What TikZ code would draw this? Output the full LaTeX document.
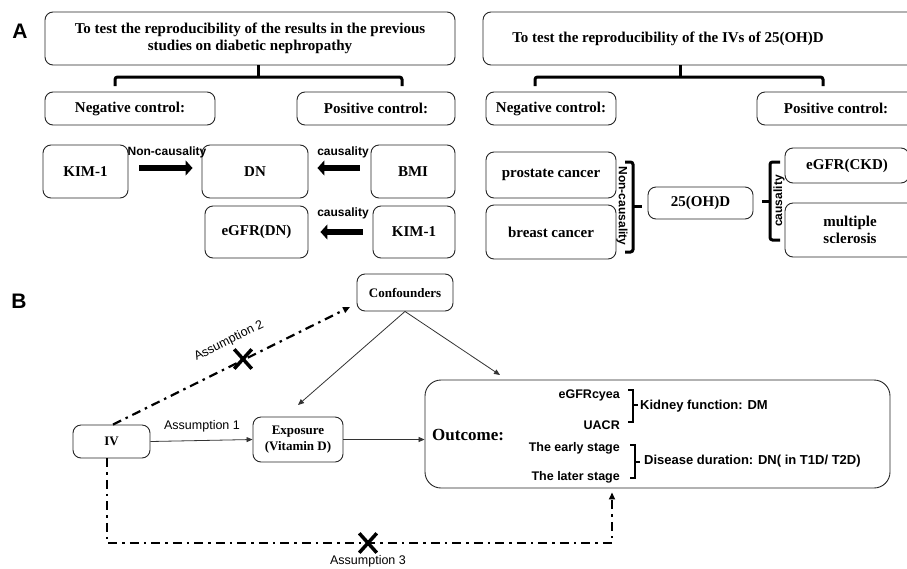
\documentclass[tikz,border=0pt]{standalone}
\usepackage{fontspec}
\setmainfont{Liberation Serif}
\newfontfamily\arial{Liberation Sans}
\usetikzlibrary{arrows.meta,calc,shapes.misc}
\begin{document}
\begin{tikzpicture}[x=1pt,y=-1pt,
  box/.style={draw=black!85, line width=0.9pt, rounded corners=8pt, inner sep=0pt, align=center,
    font=\fontsize{15}{17.5}\selectfont\bfseries},
  bbox/.style={box, font=\fontsize{13}{15.5}\selectfont\bfseries},
  plain/.style={inner sep=0pt, align=center},
  slab/.style={inner sep=0pt, font=\arial\fontsize{12}{14}\selectfont\bfseries},
  olab/.style={inner sep=0pt, font=\arial\fontsize{12.5}{14}\selectfont\bfseries},
  rlab/.style={inner sep=0pt, font=\arial\fontsize{13}{15}\selectfont\bfseries},
  alab/.style={inner sep=0pt, font=\arial\fontsize{12.5}{14}\selectfont},
  panel/.style={inner sep=0pt, font=\arial\fontsize{21}{24}\selectfont\bfseries},
  fatarrow/.style={line width=6pt, -{Triangle[length=7pt,width=15pt]}},
  brk/.style={line width=3pt, rounded corners=2.5pt},
  thinbrk/.style={line width=1.4pt},
  garrow/.style={draw=black!65, line width=0.8pt, -{Triangle[length=6pt,width=5pt]}, black!80},
  dd/.style={line width=2.2pt, dash pattern=on 9pt off 5pt on 2.5pt off 5pt, -{Triangle[length=7pt,width=6pt]}},
  xmark/.style={cross out, draw, line width=3.5pt, minimum width=14pt, minimum height=16pt, inner sep=0pt}
]
\useasboundingbox (0,0) rectangle (907,568);
\fill[white] (0,0) rectangle (907,568);

% ---------- Panel A ----------
\node[panel] (labA) at (20,31) {A};

\node[box, minimum width=410pt, minimum height=53pt] (h1) at (250,38.5)
  {To test the reproducibility of the results in the previous\\ studies on diabetic nephropathy};
\node[box, minimum width=170pt, minimum height=33pt] (neg1) at (130,108.5) {Negative control:};
\node[box, minimum width=158pt, minimum height=33pt] (pos1) at (376,108.5) {Positive control:};
\draw[brk] (258,65) -- (258,77);
\draw[brk] (115,86) -- (115,77) -- (402,77) -- (402,86);

\node[box, minimum width=85pt, minimum height=53pt] (kim1) at (85.5,171.5) {KIM-1};
\node[box, minimum width=106pt, minimum height=53pt] (dn) at (255,171.5) {DN};
\node[box, minimum width=84pt, minimum height=53pt] (bmi) at (413,171.5) {BMI};
\node[box, minimum width=103pt, minimum height=52pt] (egfrdn) at (256.5,232) {eGFR(DN)};
\node[box, minimum width=82pt, minimum height=52pt] (kim2) at (414,232) {KIM-1};

\draw[fatarrow, shorten <=11pt, shorten >=9pt] ($(kim1.east)+(0,-3.5)$) -- ($(dn.west)+(0,-3.5)$);
\draw[fatarrow, shorten <=11pt, shorten >=9pt] ($(bmi.west)+(0,-3.5)$) -- ($(dn.east)+(0,-3.5)$);
\draw[fatarrow, shorten <=10pt, shorten >=12pt] (kim2.west) -- (egfrdn.east);
\node[slab] (lnc) at (167,152) {Non-causality};
\node[slab] (lc1) at (343,152) {causality};
\node[slab] (lc2) at (343,213) {causality};

% right half
\draw[box] (483,12) rectangle (916,65);
\node[plain, font=\fontsize{15}{17.5}\selectfont\bfseries] (h2) at (668,38.5)
  {To test the reproducibility of the IVs of 25(OH)D};
\node[box, minimum width=130pt, minimum height=33pt] (neg2) at (551,108.5) {Negative control:};
\node[box, minimum width=158pt, minimum height=33pt] (pos2) at (836,108.5) {Positive control:};
\draw[brk] (680,65) -- (680,77);
\draw[brk] (535,86) -- (535,77) -- (823,77) -- (823,86);

\node[box, minimum width=130pt, minimum height=46pt] (pc) at (551,175) {prostate cancer};
\node[box, minimum width=130pt, minimum height=54pt] (bc) at (551,232) {breast cancer};
\node[box, minimum width=105pt, minimum height=32pt] (ohd) at (700.5,203) {25(OH)D};
\node[box, minimum width=124pt, minimum height=35pt] (ckd) at (847,165.5) {eGFR(CKD)};
\node[box, minimum width=130pt, minimum height=54pt] (ms) at (850,230) {multiple\\ sclerosis};

\draw[brk] (625,162) -- (633,162) -- (633,252) -- (625,252);
\draw[line width=3pt] (633,206) -- (642,206);
\node[slab, rotate=-90] (lnc2) at (622,206) {Non-causality};
\draw[brk] (780,162) -- (770,162) -- (770,240) -- (780,240);
\draw[line width=3pt] (770,201) -- (762,201);
\node[slab, rotate=90] (lc3) at (779,201) {causality};

% ---------- Panel B ----------
\node[panel] (labB) at (19,301) {B};

\node[bbox, minimum width=96pt, minimum height=37pt] (conf) at (405,292.5) {Confounders};
\node[bbox, minimum width=77pt, minimum height=33pt] (iv) at (111.5,441.5) {IV};
\node[bbox, minimum width=90pt, minimum height=45pt] (expo) at (298,439.5) {Exposure\\ (Vitamin D)};
\node[draw=black!85, line width=0.9pt, rounded corners=16pt, minimum width=465pt, minimum height=108pt, inner sep=0pt] (out) at (657.5,434) {};

\node[plain, anchor=west, font=\fontsize{17}{19}\selectfont\bfseries] (outl) at (432,435) {Outcome:};
\node[olab, anchor=east] (o1) at (620,395) {eGFRcyea};
\node[olab, anchor=east] (o2) at (620,425) {UACR};
\node[olab, anchor=east] (o3) at (620,448) {The early stage};
\node[olab, anchor=east] (o4) at (620,477) {The later stage};
\draw[thinbrk] (628,390) -- (633,390) -- (633,422) -- (628,422);
\draw[thinbrk] (633,405) -- (638,405);
\draw[thinbrk] (630,445) -- (635,445) -- (635,478) -- (630,478);
\draw[thinbrk] (635,462) -- (640,462);
\node[rlab, anchor=west] (k1) at (640,406) {Kidney function: DM};
\node[rlab, anchor=west] (k2) at (644,461) {Disease duration: DN( in T1D/ T2D)};

% arrows
\draw[garrow] (iv.east) -- (expo.west);
\node[alab] (a1) at (202,426) {Assumption 1};
\draw[garrow] (expo.east) -- (expo.east -| out.west);
\coordinate (cexp) at (298,405);
\coordinate (cout) at (500,375);
\draw[garrow] (conf.south) -- (cexp);
\draw[garrow] (conf.south) -- (cout);

\coordinate (cconf) at (350,307);
\draw[dd] ($(iv.north)+(1.5,0)$) -- (cconf);
\node[xmark] (x2) at (243,359) {};
\node[alab, rotate=26.5] (a2) at (229,341) {Assumption 2};

\coordinate (b1) at (107,543);
\coordinate (b2) at (612,543);
\draw[dd] (iv.south -| b1) -- (b1) -- (b2) -- ($(out.south -| b2)+(0,4)$);
\node[xmark] (x3) at (368,543) {};
\node[alab] (a3) at (368,561) {Assumption 3};
\end{tikzpicture}
\end{document}
